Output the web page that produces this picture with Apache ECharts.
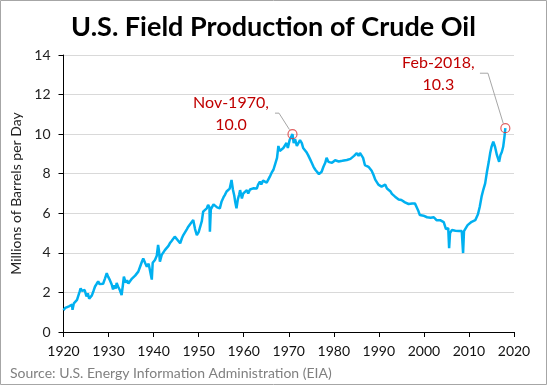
<!DOCTYPE html>
<html><head><meta charset="utf-8">
<script src="https://cdn.jsdelivr.net/npm/echarts@6/dist/echarts.min.js"></script>
<style>html,body{margin:0;padding:0;background:#fff}#c{width:547px;height:385px}</style>
</head><body><div id="c"></div>
<script>
const titleText = 'U.S. Field Production of Crude Oil';
const sourceText = 'Source: U.S. Energy Information Administration (EIA)';
const yAxisName = 'Millions of Barrels per Day';
const xMin = 1920, xMax = 2020, xStep = 10;
const yMin = 0, yMax = 14, yStep = 2;

const years = [
1920.0,1920.4,1920.8,1921.2,1921.6,1921.9,1922.0,1922.3,1922.6,1923.0,1923.3,1923.6,1923.8,1924.1,1924.4,1924.7,
1925.1,1925.4,1925.7,1925.9,1926.3,1926.7,1927.0,1927.4,1927.7,1928.0,1928.4,1928.8,1929.2,1929.6,1929.9,
1930.3,1930.7,1931.0,1931.3,1931.6,1931.8,1932.1,1932.5,1932.9,1933.2,1933.4,1933.8,1934.1,1934.4,1934.8,
1935.2,1935.5,1935.9,1936.3,1936.6,1937.0,1937.4,1937.7,1938.1,1938.5,1938.9,1939.2,1939.6,1939.8,
1940.3,1940.7,1941.0,1941.2,1941.4,1941.8,1942.1,1942.5,1942.9,1943.3,1943.6,1944.0,1944.4,1944.7,
1945.1,1945.5,1945.9,1946.3,1946.6,1947.0,1947.4,1947.7,1948.1,1948.5,1948.8,1949.2,1949.6,
1950.0,1950.3,1950.7,1951.0,1951.4,1951.8,1952.1,1952.4,1952.5,1952.7,1952.9,1953.3,1953.7,1954.1,1954.4,1954.7,
1955.1,1955.5,1955.8,1956.2,1956.6,1956.9,1957.3,1957.6,1957.9,1958.1,1958.4,1958.7,1959.0,1959.2,1959.6,1959.9,
1960.3,1960.7,1961.0,1961.4,1961.8,1962.1,1962.5,1962.9,1963.2,1963.6,1963.9,1964.3,1964.7,
1965.1,1965.5,1965.8,1966.2,1966.6,1967.0,1967.4,1967.7,1968.0,1968.4,1968.8,1969.1,1969.5,1969.8,
1970.2,1970.6,1970.83,1971.1,1971.4,1971.8,1972.1,1972.5,1972.9,1973.2,1973.6,1973.9,1974.3,1974.7,
1975.1,1975.5,1975.9,1976.3,1976.7,1976.9,1977.3,1977.7,1978.1,1978.4,1978.8,1979.2,1979.6,1979.9,
1980.3,1980.7,1981.1,1981.5,1981.9,1982.3,1982.9,1983.3,1983.7,1984.1,1984.5,1984.9,
1985.1,1985.5,1985.8,1986.2,1986.5,1986.9,1987.3,1987.7,1988.0,1988.4,1988.8,1989.2,1989.5,1989.9,
1990.2,1990.6,1991.0,1991.4,1991.8,1992.2,1992.6,1992.9,1993.2,1993.6,1994.0,1994.4,1994.8,
1995.0,1995.4,1995.8,1996.2,1996.6,1997.0,1997.4,1997.8,1998.0,1998.4,1998.8,1999.1,1999.5,1999.9,
2000.3,2000.7,2001.1,2001.5,2001.9,2002.2,2002.5,2002.8,2003.2,2003.6,2004.0,2004.4,2004.7,2004.9,
2005.1,2005.4,2005.6,2005.8,2006.2,2006.6,2007.0,2007.4,2007.8,2008.0,2008.4,2008.7,2008.9,2009.3,2009.7,
2010.1,2010.6,2011.0,2011.4,2011.7,2012.0,2012.4,2012.8,2013.2,2013.6,2014.0,2014.4,2014.7,
2015.0,2015.4,2015.8,2016.2,2016.7,2017.0,2017.3,2017.6,2017.9,2018.08
];
const values = [
1.10,1.22,1.18,1.30,1.28,1.38,1.12,1.45,1.53,1.62,1.72,2.05,2.20,2.08,2.02,2.12,
1.80,1.95,1.68,1.62,1.85,2.10,2.30,2.45,2.56,2.42,2.50,2.44,2.70,2.97,2.80,
2.62,2.40,2.15,2.35,2.20,2.48,2.30,2.12,1.87,2.40,2.80,2.50,2.62,2.45,2.55,
2.70,2.62,2.85,2.95,3.05,3.30,3.55,3.72,3.50,3.30,3.45,3.40,2.65,3.50,
3.64,3.85,4.40,4.10,3.55,3.90,3.85,4.14,4.05,4.35,4.48,4.60,4.70,4.82,
4.75,4.60,4.48,4.75,4.90,5.00,5.20,5.32,5.45,5.55,5.66,5.20,4.90,
5.05,5.15,5.60,6.08,6.15,6.25,6.42,6.30,5.07,6.20,6.25,6.45,6.35,6.30,6.20,6.25,
6.60,6.80,6.92,7.10,7.20,7.25,7.68,7.20,6.90,6.60,6.25,6.70,6.95,7.17,6.75,7.00,
7.05,7.17,7.00,7.20,7.10,7.26,7.35,7.25,7.45,7.60,7.45,7.65,7.68,
7.55,7.51,7.85,8.05,8.20,8.50,8.80,9.40,9.15,9.05,9.30,9.20,9.55,9.30,
9.70,9.80,10.00,9.55,9.75,9.40,9.37,9.70,9.55,9.30,9.20,9.10,8.94,8.75,
8.55,8.35,8.20,8.10,7.98,7.93,8.10,8.35,8.55,8.80,8.60,8.65,8.55,8.54,
8.68,8.60,8.62,8.55,8.65,8.62,8.69,8.70,8.75,8.82,8.90,8.95,
9.04,8.90,9.05,9.11,8.80,8.44,8.40,8.35,8.29,8.15,7.95,7.70,7.60,7.45,
7.53,7.35,7.43,7.45,7.25,7.20,7.10,6.98,6.92,6.84,6.75,6.70,6.62,
6.67,6.58,6.55,6.52,6.47,6.45,6.50,6.45,6.50,6.30,6.10,5.91,5.85,5.88,
5.85,5.80,5.82,5.78,5.82,5.80,5.83,5.65,5.72,5.65,5.60,5.55,5.58,5.20,
5.15,5.25,4.24,5.00,5.15,5.10,5.12,5.20,5.10,5.15,5.10,3.99,5.10,5.25,5.40,
5.45,5.57,5.55,5.65,5.66,5.95,6.33,6.84,7.20,7.51,8.10,8.60,9.03,
9.35,9.62,9.35,8.95,8.60,8.95,9.10,9.36,9.90,10.30
];
const annoYears = [1970.83, 2018.08];
const annoValues = [10.0, 10.3];
const annoLabels = ['Nov-1970,\n10.0', 'Feb-2018,\n10.3'];

const FONT = 'Lato, "Open Sans", sans-serif';
const chart = echarts.init(document.getElementById('c'), null, {renderer: 'canvas'});
const lineData = years.map((y, i) => [y, values[i]]);
const annoData = annoYears.map((y, i) => [y, annoValues[i]]);

chart.setOption({
  animation: false,
  backgroundColor: '#fff',
  title: {
    text: titleText, left: 'center', top: 9,
    textStyle: {fontFamily: FONT, fontSize: 27, fontWeight: 'bold', color: '#000'}
  },
  grid: {left: 63.5, right: 33, top: 55, bottom: 53, containLabel: false},
  xAxis: {
    type: 'value', min: xMin, max: xMax, interval: xStep,
    axisLine: {lineStyle: {color: '#000', width: 1}},
    axisTick: {show: true, length: 5, lineStyle: {color: '#000'}},
    axisLabel: {fontFamily: FONT, fontSize: 14, color: '#111', margin: 12, formatter: v => String(v)},
    splitLine: {show: false}
  },
  yAxis: {
    type: 'value', min: yMin, max: yMax, interval: yStep,
    name: yAxisName, nameLocation: 'middle', nameGap: 28, nameRotate: 90,
    nameTextStyle: {fontFamily: FONT, fontSize: 14, color: '#222'},
    axisLine: {show: true, lineStyle: {color: '#000', width: 1}},
    axisTick: {show: true, length: 5, lineStyle: {color: '#000'}},
    axisLabel: {fontFamily: FONT, fontSize: 14, color: '#222', margin: 13},
    splitLine: {show: true, lineStyle: {color: '#d9d9d9', width: 1}}
  },
  series: [
    {
      type: 'line', data: lineData, showSymbol: false, smooth: false,
      lineStyle: {color: '#00b0f0', width: 2.5}, z: 2
    },
    {
      type: 'scatter', data: annoData, symbol: 'circle', symbolSize: 9,
      itemStyle: {color: 'rgba(0,0,0,0)', borderColor: '#d9383a', borderWidth: 1.2}, z: 5
    }
  ]
});

const p0 = chart.convertToPixel({gridIndex: 0}, annoData[0]);
const p1 = chart.convertToPixel({gridIndex: 0}, annoData[1]);
const annoStyle = {fontFamily: FONT, fontSize: 16, fill: '#c00000', align: 'center', verticalAlign: 'middle', lineHeight: 22};
chart.setOption({
  graphic: [
    {type: 'text', x: p0[0] - 61.5, y: p0[1] - 20, style: Object.assign({text: annoLabels[0]}, annoStyle), z: 10},
    {type: 'text', x: p1[0] - 67, y: p1[1] - 54, style: Object.assign({text: annoLabels[1]}, annoStyle), z: 10},
    {type: 'polyline', shape: {points: [[p0[0]-17.5, p0[1]-21], [p0[0]-13.5, p0[1]-21], [p0[0]-3, p0[1]-4.5]]},
      style: {stroke: '#a6a6a6', lineWidth: 1, fill: null}, z: 10},
    {type: 'polyline', shape: {points: [[p1[0]-25.4, p1[1]-55], [p1[0]-17.4, p1[1]-55], [p1[0]-2, p1[1]-4.5]]},
      style: {stroke: '#a6a6a6', lineWidth: 1, fill: null}, z: 10},
    {type: 'text', left: 10, top: 366, style: {text: sourceText, fontFamily: FONT, fontSize: 14, fill: '#808080'}, z: 10},
    {type: 'rect', shape: {x: 0.5, y: 0.5, width: 546, height: 384}, style: {stroke: '#a6a6a6', lineWidth: 1, fill: null}, z: 0, silent: true}
  ]
});
</script></body></html>
